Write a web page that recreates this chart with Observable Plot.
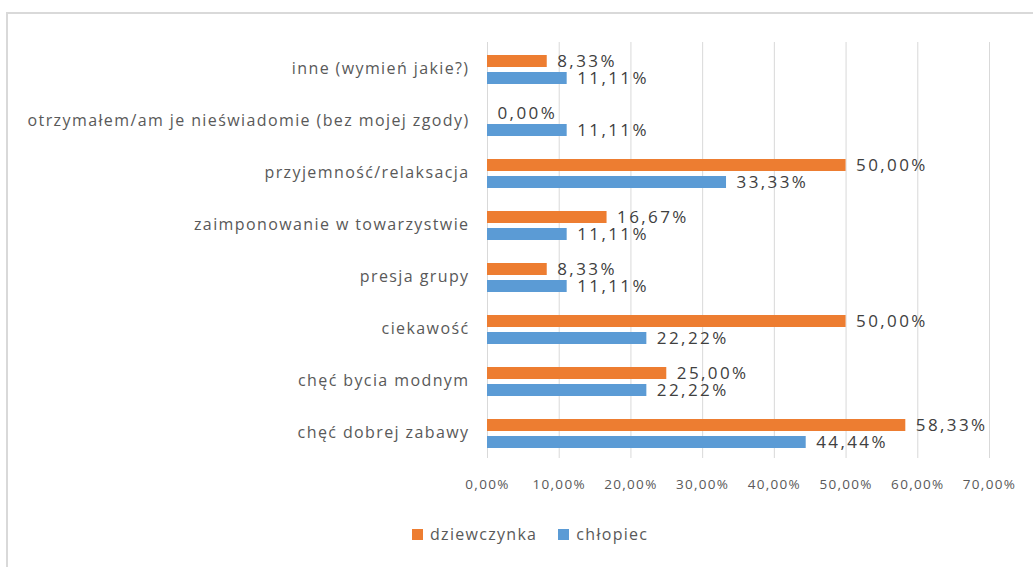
<!DOCTYPE html>
<html>
<head>
<meta charset="utf-8">
<script src="https://cdn.jsdelivr.net/npm/d3@7"></script>
<script src="https://cdn.jsdelivr.net/npm/@observablehq/plot@0.6"></script>
<style>
  html, body { margin: 0; padding: 0; background: #fff; overflow: hidden; width: 1033px; height: 567px; }
  #frame { position: absolute; left: 6px; top: 12px; width: 1100px; height: 600px;
           border-left: 2px solid #d9d9d9; border-top: 2px solid #d9d9d9; }
  #chart { position: absolute; left: 0; top: 0; }
  #chart svg text { font-family: "Open Sans", sans-serif; }
  #chart svg g[aria-label="fy-axis tick label"] text { letter-spacing: 1.4px; }
  #chart svg g[aria-label="x-axis tick label"] text { letter-spacing: 1.3px; }
  #chart svg g[aria-label="text"] text { letter-spacing: 2.4px; }
  #legend { position: absolute; left: 412px; top: 523px; font-family: "Open Sans", sans-serif;
            font-size: 16px; letter-spacing: 1.3px; color: #595959; display: flex; align-items: center; }
  .sw { display: inline-block; width: 11px; height: 11px; margin-right: 7px; }
  .item { display: flex; align-items: center; margin-right: 21px; }
</style>
</head>
<body>
<div id="frame"></div>
<div id="chart"></div>
<div id="legend"></div>
<script>
const categories = [
  "inne (wymień jakie?)",
  "otrzymałem/am je nieświadomie (bez mojej zgody)",
  "przyjemność/relaksacja",
  "zaimponowanie w towarzystwie",
  "presja grupy",
  "ciekawość",
  "chęć bycia modnym",
  "chęć dobrej zabawy"
];
const series = ["dziewczynka", "chłopiec"];
const dziewczynka = [8.33, 0.00, 50.00, 16.67, 8.33, 50.00, 25.00, 58.33];
const chlopiec = [11.11, 11.11, 33.33, 11.11, 11.11, 22.22, 22.22, 44.44];
const xTicks = [0, 10, 20, 30, 40, 50, 60, 70];
const colors = ["#ED7D31", "#5B9BD5"];

const data = [];
categories.forEach((c, i) => {
  data.push({category: c, series: series[0], value: dziewczynka[i]});
  data.push({category: c, series: series[1], value: chlopiec[i]});
});
const fmt = v => v.toFixed(2).replace(".", ",") + "%";

const chart = Plot.plot({
  width: 1033,
  height: 515,
  marginLeft: 487,
  marginRight: 44,
  marginTop: 40,
  marginBottom: 55,
  x: {domain: [0, 70], ticks: xTicks, label: null},
  fy: {domain: categories, padding: 0, label: null},
  y: {domain: series, paddingInner: 0.278, paddingOuter: 0.597, align: 0.58, axis: null},
  color: {domain: series, range: colors},
  marks: [
    Plot.gridX(xTicks, {stroke: "#d9d9d9", strokeOpacity: 1, strokeWidth: 1}),
    Plot.axisX({ticks: xTicks, tickFormat: fmt, tickSize: 0, tickPadding: 21, fontSize: 13.5, fill: "#595959", label: null}),
    Plot.axisFy({anchor: "left", tickSize: 0, tickPadding: 18, fontSize: 16, fill: "#595959", label: null}),
    Plot.barX(data, {fy: "category", y: "series", x: "value", fill: "series"}),
    Plot.text(data, {fy: "category", y: "series", x: "value", text: d => fmt(d.value),
      textAnchor: "start", dx: 10, fontSize: 17, fill: "#404040"})
  ]
});
document.getElementById("chart").appendChild(chart);

const leg = document.getElementById("legend");
series.forEach((s, i) => {
  const it = document.createElement("div");
  it.className = "item";
  it.innerHTML = `<span class="sw" style="background:${colors[i]}"></span><span>${s}</span>`;
  leg.appendChild(it);
});
</script>
</body>
</html>
